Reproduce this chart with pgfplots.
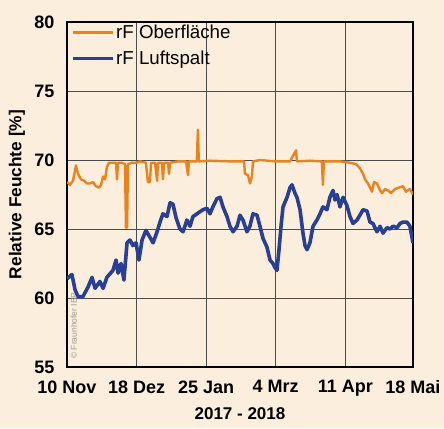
\documentclass[border=0pt]{standalone}
\usepackage{fontspec}
\setmainfont{Liberation Sans}
\usepackage{pgfplots}
\pgfplotsset{compat=1.18}
\definecolor{bg}{RGB}{252,238,221}
\definecolor{cor}{RGB}{234,130,30}
\definecolor{cbl}{RGB}{40,63,148}
\begin{document}
\begin{tikzpicture}
\fill[bg] (-67pt,-61pt) rectangle (377pt,367pt);
\useasboundingbox (-67pt,-61pt) rectangle (377pt,367pt);
\begin{axis}[
  at={(0pt,0pt)}, anchor=south west,
  scale only axis, width=346pt, height=345pt,
  xmin=0, xmax=189, ymin=55, ymax=80,
  xtick={0,38,76,114,152,189},
  xticklabels={10 Nov,18 Dez,25 Jan,4 Mrz,11 Apr,18 Mai},
  ytick={55,60,...,80},
  grid=major,
  major grid style={black!70, line width=0.6pt},
  axis line style={line width=1.4pt, black},
  major tick length=0pt,
  /pgf/number format/assume math mode=true,
  tick label style={font=\bfseries\fontsize{18}{20}\selectfont},
  yticklabel style={xshift=-9pt},
  xticklabel style={yshift=-10pt},
  xlabel={2017 - 2018},
  ylabel={Relative Feuchte [\%]},
  every axis x label/.style={at={(axis description cs:0.5,0)}, yshift=-47pt, anchor=center, font=\bfseries\fontsize{17}{20}\selectfont},
  every axis y label/.style={at={(axis description cs:0,0.5)}, xshift=-50pt, rotate=90, anchor=center, font=\bfseries\fontsize{17.3}{20}\selectfont},
  legend style={at={(4pt,345pt)}, anchor=north west, draw=none, fill=none, font=\fontsize{18.7}{22}\selectfont, inner xsep=0pt, inner ysep=1pt, row sep=6.5pt},
  legend cell align=left,
  legend image code/.code={\draw[#1, line width=3pt] (0pt,0pt) -- (40pt,0pt);},
]
\addplot[cor, line width=2.4pt, line join=round] coordinates {
(0,68.4)(1.6,68.2)(3.3,68.5)(4.9,69.6)(6.0,69.0)(7.6,68.6)(9.3,68.5)(10.9,68.3)
(12.6,68.3)(14.2,68.4)(15.8,68.1)(17.5,68.0)(18.6,68.2)(19.7,68.8)(20.8,68.6)
(21.8,69.5)(22.9,69.8)(24.6,69.8)(26.8,69.8)(27.3,68.6)(27.9,69.8)(30.0,69.8)
(31.7,69.7)(32.2,65.1)(32.8,65.1)(33.3,69.7)(35.5,69.8)(37.7,69.8)(39.9,69.9)
(43.1,69.8)(44.2,68.4)(45.3,68.4)(45.9,69.8)(48.1,69.8)(49.2,68.5)(49.7,69.8)
(51.9,69.8)(52.4,68.6)(53.0,69.8)(55.2,69.8)(55.7,69.0)(56.3,69.8)(60.6,69.9)
(65.0,69.9)(66.1,68.9)(66.6,69.9)(70.9,69.9)(71.5,72.2)(72.0,69.9)(78.1,69.95)
(89.0,69.9)(96.7,69.9)(97.2,69.0)(98.9,68.9)(99.9,68.3)(101.0,68.8)(101.6,69.9)
(105.4,70.0)(113.6,69.9)(121.8,69.9)(125.1,70.7)(125.6,69.9)(132.7,69.95)
(139.2,69.9)(139.8,68.2)(140.3,69.9)(149.1,69.9)(154.6,69.8)(157.9,69.7)
(160.0,69.4)(161.7,69.0)(162.8,68.6)(164.4,68.3)(165.5,68.0)(166.6,67.7)
(167.7,68.4)(169.3,68.3)(171.0,67.8)(172.1,67.6)(173.7,67.9)(175.3,67.8)
(177.0,67.6)(179.2,67.9)(181.3,68.0)(183.5,68.1)(185.2,67.7)(187.3,67.9)(189,67.5)
};
\addlegendentry{rF Oberfläche}
\addplot[cbl, line width=3.6pt, line join=round] coordinates {
(0,61.4)(2.7,61.7)(4.4,60.6)(6.0,60.1)(8.7,60.1)(11.5,60.8)(13.7,61.5)(15.3,60.7)
(18.0,61.2)(19.7,60.7)(21.8,61.5)(25.1,62.0)(26.8,62.75)(27.9,61.8)(29.5,62.5)
(31.1,61.3)(32.8,64.0)(34.4,64.2)(36.0,63.8)(37.7,64.0)(39.3,62.75)(41.0,64.2)
(43.1,64.9)(45.3,64.4)(47.0,64.0)(49.2,64.8)(50.8,65.5)(52.4,66.1)(54.6,65.9)
(56.3,66.9)(57.9,66.8)(59.6,65.8)(61.7,65.0)(63.4,64.8)(65.5,65.65)(67.2,65.2)
(68.8,65.9)(71.0,66.1)(72.6,66.25)(74.3,66.4)(76.5,66.5)(78.1,66.1)(79.7,66.6)
(81.9,67.2)(83.6,67.3)(85.2,66.6)(87.4,65.9)(89.0,65.2)(90.7,64.8)(92.9,65.2)
(94.5,66.0)(96.1,65.65)(98.3,64.8)(99.9,65.2)(101.6,66.1)(103.8,66.0)(105.4,65.2)
(107.1,64.3)(109.2,63.7)(110.9,62.75)(112.5,62.5)(113.6,62.2)(114.7,62.0)
(115.8,63.5)(116.9,65.2)(118.0,66.6)(120.2,67.3)(121.8,68.0)(122.9,68.2)
(124.5,67.6)(125.6,67.3)(127.3,66.4)(128.9,64.7)(130.0,63.8)(131.1,63.5)
(132.7,64.0)(134.4,65.2)(136.5,65.65)(138.2,66.1)(139.8,66.6)(142.0,66.4)
(143.6,67.3)(145.3,67.8)(146.4,67.1)(147.5,67.5)(149.1,66.6)(150.8,67.3)
(152.9,66.7)(154.6,65.9)(156.2,65.4)(158.4,65.65)(160.0,66.0)(161.7,66.4)
(163.9,66.3)(165.5,65.5)(167.1,65.4)(169.3,64.8)(171.0,65.2)(172.6,64.7)
(174.8,65.1)(176.4,65.0)(178.1,65.2)(180.3,65.1)(181.9,65.4)(183.5,65.5)
(185.7,65.5)(187.3,65.2)(189,64.0)
};
\addlegendentry{rF Luftspalt}
\node[rotate=90, text=black!40, font=\fontsize{8.5}{10}\selectfont] at (axis cs:3.8,58.0) {\textcopyright{} Fraunhofer IBP};
\end{axis}
\end{tikzpicture}
\end{document}
